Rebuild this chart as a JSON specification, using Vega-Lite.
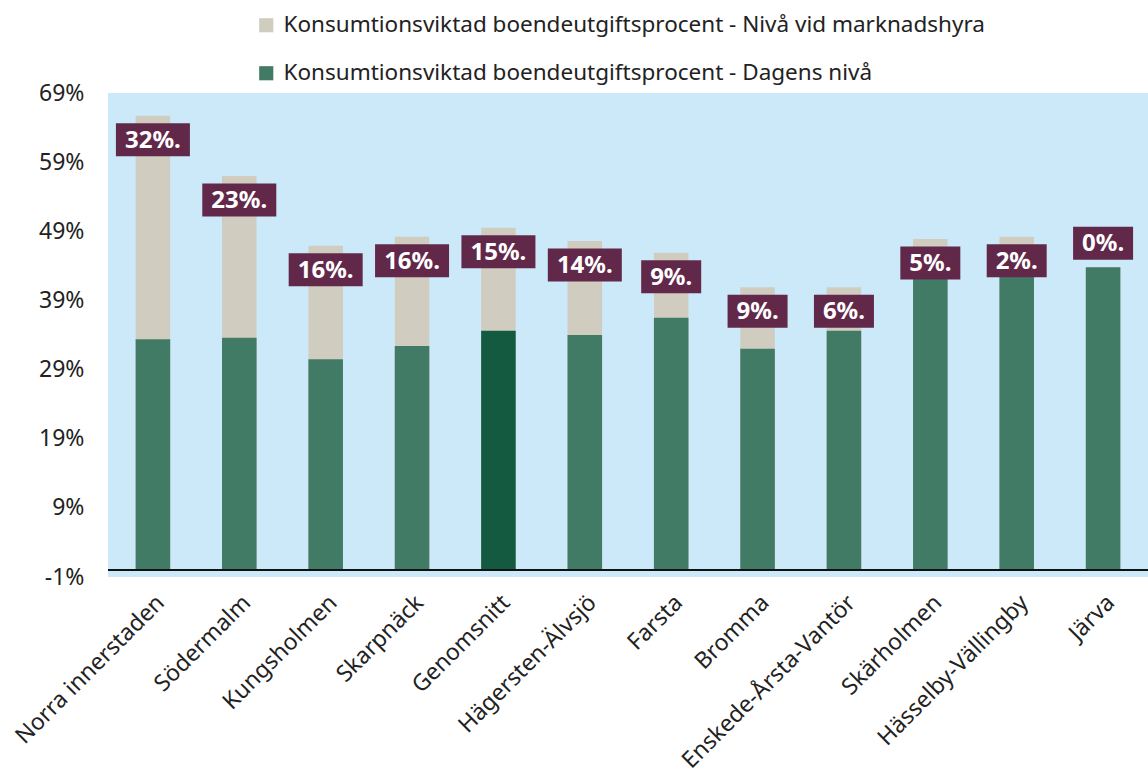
{
  "$schema": "https://vega.github.io/schema/vega-lite/v6.json",
  "autosize": {"type": "none"},
  "padding": {"left": 108, "top": 93, "right": 0, "bottom": 197},
  "width": 1040,
  "height": 484,
  "background": "white",
  "config": {
    "view": {"fill": "#CCE9FA", "stroke": null},
    "font": "Noto Sans"
  },
  "data": {
    "values": [
      {"omrade": "Norra innerstaden", "dagens": 33.4, "marknad": 65.7, "diff": 32},
      {"omrade": "Södermalm", "dagens": 33.6, "marknad": 57.0, "diff": 23},
      {"omrade": "Kungsholmen", "dagens": 30.5, "marknad": 46.9, "diff": 16},
      {"omrade": "Skarpnäck", "dagens": 32.4, "marknad": 48.2, "diff": 16},
      {"omrade": "Genomsnitt", "dagens": 34.6, "marknad": 49.5, "diff": 15},
      {"omrade": "Hägersten-Älvsjö", "dagens": 34.0, "marknad": 47.6, "diff": 14},
      {"omrade": "Farsta", "dagens": 36.5, "marknad": 45.9, "diff": 9},
      {"omrade": "Bromma", "dagens": 32.0, "marknad": 40.9, "diff": 9},
      {"omrade": "Enskede-Årsta-Vantör", "dagens": 34.6, "marknad": 40.9, "diff": 6},
      {"omrade": "Skärholmen", "dagens": 42.9, "marknad": 47.9, "diff": 5},
      {"omrade": "Hässelby-Vällingby", "dagens": 46.2, "marknad": 48.2, "diff": 2},
      {"omrade": "Järva", "dagens": 43.8, "marknad": 43.8, "diff": 0}
    ]
  },
  "transform": [{"calculate": "datum.diff + '%.'", "as": "etikett"}],
  "layer": [
    {
      "mark": {"type": "bar"},
      "encoding": {
        "x": {
          "field": "omrade",
          "type": "nominal",
          "sort": null,
          "scale": {"paddingInner": 0.6, "paddingOuter": 0.32},
          "axis": {
            "title": null,
            "domain": false,
            "ticks": false,
            "labelAngle": -45,
            "labelAlign": "right",
            "labelBaseline": "top",
            "labelPadding": 14,
            "labelFontSize": 23,
            "labelColor": "#222222",
            "labelFont": "Noto Sans",
            "labelLimit": 400
          }
        },
        "y": {
          "field": "marknad",
          "type": "quantitative",
          "scale": {"domain": [-1, 69], "nice": false, "zero": false},
          "axis": {
            "title": null,
            "values": [-1, 9, 19, 29, 39, 49, 59, 69],
            "labelExpr": "datum.value + '%'",
            "grid": false,
            "domain": false,
            "ticks": false,
            "labelPadding": 24,
            "labelFontSize": 23,
            "labelColor": "#222222",
            "labelFont": "Noto Sans"
          }
        },
        "y2": {"datum": 0},
        "color": {
          "datum": "Konsumtionsviktad boendeutgiftsprocent - Nivå vid marknadshyra",
          "type": "nominal",
          "scale": {
            "domain": [
              "Konsumtionsviktad boendeutgiftsprocent - Nivå vid marknadshyra",
              "Konsumtionsviktad boendeutgiftsprocent - Dagens nivå"
            ],
            "range": ["#D0CDC0", "#417B66"]
          },
          "legend": {
            "title": null,
            "orient": "none",
            "legendX": 147,
            "legendY": -79,
            "direction": "vertical",
            "symbolType": "square",
            "symbolSize": 200,
            "symbolStrokeWidth": 0,
            "labelFontSize": 22.5,
            "labelColor": "#222222",
            "labelFont": "Noto Sans",
            "labelOffset": 6,
            "rowPadding": 25,
            "padding": 0,
            "labelLimit": 900
          }
        }
      }
    },
    {
      "mark": {"type": "bar"},
      "encoding": {
        "x": {"field": "omrade", "type": "nominal", "sort": null},
        "y": {"field": "dagens", "type": "quantitative"},
        "y2": {"datum": 0},
        "color": {
          "condition": {"test": "datum.omrade === 'Genomsnitt'", "value": "#135A40"},
          "datum": "Konsumtionsviktad boendeutgiftsprocent - Dagens nivå",
          "type": "nominal"
        }
      }
    },
    {
      "mark": {"type": "rule", "color": "#111111", "strokeWidth": 2},
      "encoding": {"y": {"datum": 0}}
    },
    {
      "transform": [{"filter": "datum.diff > 0"}],
      "layer": [
        {
          "mark": {"type": "tick", "orient": "horizontal", "thickness": 33, "color": "#62284A", "yOffset": 24, "opacity": 1},
          "encoding": {
            "x": {"field": "omrade", "type": "nominal", "sort": null},
            "y": {"field": "marknad", "type": "quantitative"},
            "size": {"condition": {"test": "datum.diff >= 10", "value": 74}, "value": 60}
          }
        },
        {
          "mark": {"type": "text", "color": "white", "fontWeight": "bold", "fontSize": 24, "baseline": "middle", "align": "center", "yOffset": 25},
          "encoding": {
            "x": {"field": "omrade", "type": "nominal", "sort": null},
            "y": {"field": "marknad", "type": "quantitative"},
            "text": {"field": "etikett"}
          }
        }
      ]
    },
    {
      "transform": [{"filter": "datum.diff == 0"}],
      "layer": [
        {
          "mark": {"type": "tick", "orient": "horizontal", "thickness": 33, "color": "#62284A", "yOffset": -24, "size": 60, "opacity": 1},
          "encoding": {
            "x": {"field": "omrade", "type": "nominal", "sort": null},
            "y": {"field": "marknad", "type": "quantitative"}
          }
        },
        {
          "mark": {"type": "text", "color": "white", "fontWeight": "bold", "fontSize": 24, "baseline": "middle", "align": "center", "yOffset": -23},
          "encoding": {
            "x": {"field": "omrade", "type": "nominal", "sort": null},
            "y": {"field": "marknad", "type": "quantitative"},
            "text": {"field": "etikett"}
          }
        }
      ]
    }
  ]
}
